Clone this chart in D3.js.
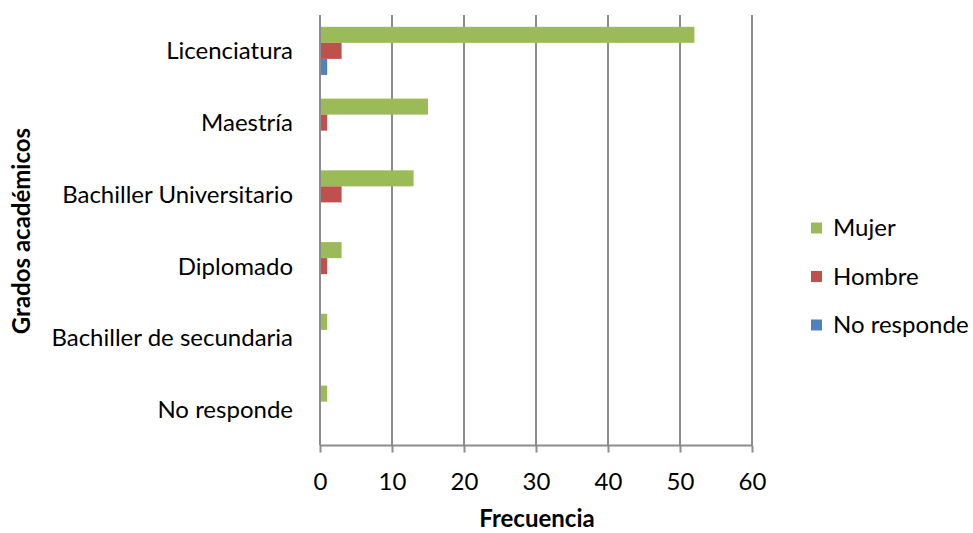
<!DOCTYPE html>
<html><head><meta charset="utf-8">
<script src="https://cdn.jsdelivr.net/npm/d3@7"></script>
<style>body{margin:0;background:#fff;} text{font-family:Lato, "Open Sans", sans-serif;}</style>
</head><body>
<svg id="c" width="973" height="533"></svg>
<script>
const categories = ["Licenciatura","Maestría","Bachiller Universitario","Diplomado","Bachiller de secundaria","No responde"];
const seriesNames = ["Mujer","Hombre","No responde"];
const colors = ["#9BBB59","#C0504D","#4F81BD"];
const mujer = [52,15,13,3,1,1];
const hombre = [3,1,3,1,0,0];
const noResponde = [1,0,0,0,0,0];
const xTicks = [0,10,20,30,40,50,60];
const seriesValues = [mujer, hombre, noResponde];

const FS = 24;
const svg = d3.select("#c");
const pLeft = 320, pRight = 752, pTop = 15, pBottom = 445.5;
const x = d3.scaleLinear().domain([0,60]).range([pLeft,pRight]);
const y = d3.scaleBand().domain(categories).range([pTop,pBottom]).paddingInner(0.33).paddingOuter(0.165);
const ys = d3.scaleBand().domain(seriesNames).range([0,y.bandwidth()]);

// gridlines
svg.append("g").selectAll("line").data(xTicks.slice(1)).join("line")
  .attr("x1",d=>x(d)).attr("x2",d=>x(d)).attr("y1",pTop).attr("y2",pBottom)
  .attr("stroke","#8c8c8c").attr("stroke-width",2);

// bars
categories.forEach((c,i)=>{
  seriesValues.forEach((vals,j)=>{
    if(vals[i]>0){
      svg.append("rect").attr("x",x(0)).attr("y",y(c)+ys(seriesNames[j]))
        .attr("width",x(vals[i])-x(0)).attr("height",ys.bandwidth())
        .attr("fill",colors[j]);
    }
  });
});

// axes
const xa = svg.append("g").attr("transform",`translate(0,${pBottom})`)
  .call(d3.axisBottom(x).tickValues(xTicks).tickSize(7).tickPadding(20));
xa.select(".domain").attr("stroke","#8c8c8c").attr("stroke-width",2).attr("d",`M${pLeft},0H${pRight}`);
xa.selectAll(".tick line").attr("stroke","#8c8c8c").attr("stroke-width",2);
xa.selectAll(".tick text").attr("font-size",FS).attr("fill","#000").attr("font-family","Lato");

svg.append("line").attr("x1",pLeft).attr("x2",pLeft).attr("y1",pTop).attr("y2",pBottom)
  .attr("stroke","#8c8c8c").attr("stroke-width",2);

// category labels
svg.append("g").selectAll("text").data(categories).join("text")
  .attr("x",293).attr("y",d=>y(d)+y.bandwidth()/2).attr("dy","0.35em")
  .attr("text-anchor","end").attr("font-size",FS).attr("fill","#000").text(d=>d);

// axis titles
svg.append("text").attr("x",537).attr("y",527).attr("text-anchor","middle")
  .attr("font-size",FS).attr("font-weight","bold").text("Frecuencia");
svg.append("text").attr("transform","translate(30,231) rotate(-90)").attr("text-anchor","middle")
  .attr("font-size",FS).attr("font-weight","bold").text("Grados académicos");

// legend
const leg = svg.append("g");
seriesNames.forEach((s,i)=>{
  const yy = 228 + i*48.5;
  leg.append("rect").attr("x",811).attr("y",yy-5.5).attr("width",11).attr("height",11).attr("fill",colors[i]);
  leg.append("text").attr("x",833).attr("y",yy).attr("dy","0.35em").attr("font-size",FS).text(s);
});
</script>
</body></html>
